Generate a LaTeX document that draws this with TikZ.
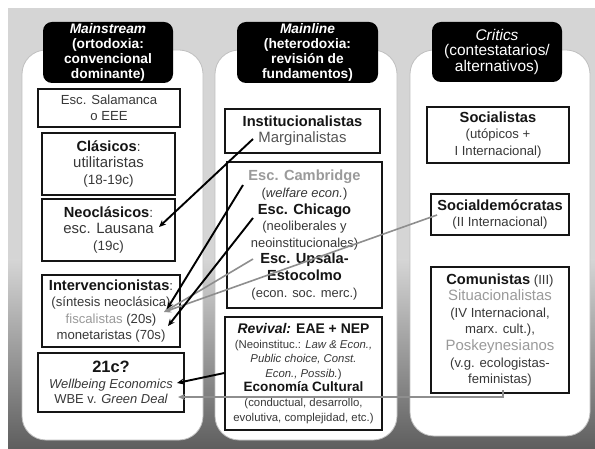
\documentclass[tikz,border=0pt]{standalone}
\usepackage{fontspec}
\setmainfont{Liberation Sans}
\usetikzlibrary{arrows.meta}
\definecolor{tk}{HTML}{151515}
\definecolor{tx}{HTML}{383838}
\definecolor{lg}{HTML}{9A9A9A}
\definecolor{mg}{HTML}{555555}
\definecolor{bgtop}{HTML}{D5D5D5}
\definecolor{bgbot}{HTML}{5E5E5E}
\definecolor{lnk}{HTML}{8E8E8E}
\newcommand\ttl[1]{{\fontsize{14.7}{16.5}\selectfont\bfseries\color{tk}#1}}
\newcommand\bigreg[1]{{\fontsize{15}{16.5}\selectfont #1}}
\begin{document}
\begin{tikzpicture}[x=1bp,y=-1bp,
  panel/.style={fill=white, draw=black!25, line width=0.8bp, rounded corners=24bp},
  hdr/.style={fill=black, rounded corners=9bp, text=white, align=center, inner sep=0pt},
  box/.style={draw=tk, line width=1.3bp, fill=white, align=center, inner sep=0pt, text=tx},
  blk/.style={draw=black, line width=1.9bp, -{Stealth[length=7bp,width=6bp]}},
  gry/.style={draw=lnk, line width=1.6bp},
  gryarr/.style={gry, -{Stealth[length=7bp,width=6bp]}}
]
\useasboundingbox (0,0) rectangle (595,449);
\fill[white] (0,0) rectangle (595,449);
\fill[bgtop] (8,8) rectangle (595,262);
\shade[top color=bgtop, bottom color=bgbot] (8,260) rectangle (595,449);

% panels
\draw[panel] (22,50) rectangle (203,440);
\draw[panel] (215,50) rectangle (397,440);
\draw[panel] (410,50) rectangle (590,436);

% headers
\node[hdr, minimum width=130bp, minimum height=61bp, font={\fontsize{13.8}{15.3}\selectfont\bfseries}] (h1) at (108,52.5)
  {{\itshape Mainstream}\\(ortodoxia:\\convencional\\dominante)};
\node[hdr, minimum width=141bp, minimum height=61bp, font={\fontsize{13.8}{15.3}\selectfont\bfseries}] (h2) at (307.5,52.5)
  {{\itshape Mainline}\\(heterodoxia:\\revisión de\\fundamentos)};
\node[hdr, minimum width=130bp, minimum height=60bp, font={\fontsize{15.5}{16}\selectfont}] (h3) at (497,52)
  {{\itshape Critics}\\(contestatarios/\\alternativos)};

% panel 1
\node[box, minimum width=142bp, minimum height=38bp, font={\fontsize{13.2}{16}\selectfont}] (sal) at (109,108)
  {Esc. Salamanca\\o EEE};
\node[box, minimum width=133bp, minimum height=62bp, font={\fontsize{13.5}{16.5}\selectfont}] (cla) at (108.5,164)
  {\ttl{Clásicos}:\\\bigreg{utilitaristas}\\(18-19c)};
\node[box, minimum width=133bp, minimum height=62bp, font={\fontsize{13.5}{16.5}\selectfont}] (neo) at (108.5,230)
  {\ttl{Neoclásicos}:\\\bigreg{esc. Lausana}\\(19c)};
\node[box, minimum width=138bp, minimum height=72bp, font={\fontsize{13.2}{16.5}\selectfont}] (int) at (111,311)
  {\ttl{Intervencionistas}:\\(síntesis neoclásica)\\{\color{lg}fiscalistas} (20s)\\monetaristas (70s)};
\node[box, minimum width=146bp, minimum height=59bp, font={\fontsize{13}{15.5}\selectfont}] (w21) at (111,382.5)
  {{\fontsize{16.5}{16}\selectfont\bfseries\color{tk}21c?}\\{\itshape Wellbeing Economics}\\WBE v. {\itshape Green Deal}};

% panel 2
\node[box, minimum width=155bp, minimum height=44bp, font={\fontsize{13.2}{16.5}\selectfont}] (ins) at (302.5,131)
  {\ttl{Institucionalistas}\\{\color{mg}\bigreg{Marginalistas}}};
\node[box, minimum width=155bp, minimum height=146bp, font={\fontsize{13}{16.7}\selectfont}] (cam) at (304.5,235)
  {{\fontsize{14.7}{16.5}\selectfont\bfseries\color{lg}Esc. Cambridge}\\({\itshape welfare econ.})\\\ttl{Esc. Chicago}\\(neoliberales y\\neoinstitucionales)\\\ttl{Esc. Upsala-}\\\ttl{Estocolmo}\\(econ. soc. merc.)};
\node[box, minimum width=157bp, minimum height=113bp, font={\fontsize{11.4}{14.6}\selectfont}] (rev) at (303.5,373.5)
  {{\fontsize{14}{15}\selectfont\bfseries\color{tk}{\itshape Revival:} EAE + NEP}\\(Neoinstituc.: {\itshape Law \& Econ.,}\\{\itshape Public choice, Const.}\\{\itshape Econ., Possib.})\\{\fontsize{13.6}{15}\selectfont\bfseries\color{tk}Economía Cultural}\\(conductual, desarrollo,\\evolutiva, complejidad, etc.)};

% panel 3
\node[box, minimum width=142bp, minimum height=56bp, font={\fontsize{13.2}{16.5}\selectfont}] (soc) at (498,135)
  {\ttl{Socialistas}\\(utópicos +\\I Internacional)};
\node[box, minimum width=138bp, minimum height=41bp, font={\fontsize{13.2}{16.5}\selectfont}] (sdm) at (500,214.5)
  {\ttl{Socialdemócratas}\\(II Internacional)};
\node[box, minimum width=138bp, minimum height=126bp, font={\fontsize{13.2}{16.6}\selectfont}] (com) at (500,330)
  {\ttl{Comunistas} (III)\\{\color{lg}\bigreg{Situacionalistas}}\\(IV Internacional,\\marx. cult.),\\{\color{lg}\bigreg{Poskeynesianos}}\\(v.g. ecologistas-\\feministas)};

% connector end points at the texts
\coordinate (margS) at (253,139);
\coordinate (lausE) at (159,227);
\coordinate (cambS) at (243,185);
\coordinate (fiscE) at (167,309);
\coordinate (chicS) at (253,218);
\coordinate (moneE) at (168,326);
\coordinate (upsS) at (253,259);
\coordinate (fiscG) at (164,312);
\coordinate (sdmS) at (437,215);
\coordinate (revW) at (rev.west |- 0,373);
\coordinate (wbeE) at (177,383);
\coordinate (comS) at (503,390);
\coordinate (comC) at (503,397);
\coordinate (gdE) at (178,397);

% connectors
\draw[gryarr] (sdmS) -- (fiscG);
\draw[gryarr] (upsS) -- (fiscG);
\draw[blk] (margS) -- (lausE);
\draw[blk] (cambS) -- (fiscE);
\draw[blk] (chicS) -- (moneE);
\draw[blk] (revW) -- (wbeE);
\draw[gryarr] (comS) -- (comC) -- (gdE);
\end{tikzpicture}
\end{document}
